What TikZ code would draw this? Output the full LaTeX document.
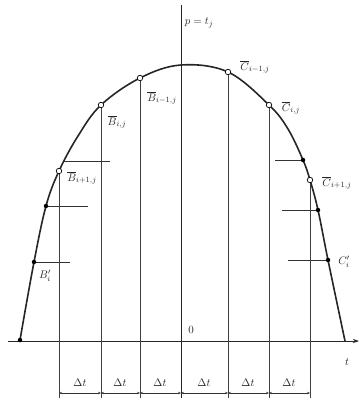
\documentclass[tikz,border=0pt]{standalone}
\usetikzlibrary{arrows.meta}
\begin{document}
\begin{tikzpicture}[x=1pt,y=-1pt,
  curve/.style={line width=1.6pt,black!85},
  gridline/.style={line width=0.6pt,black!75},
  axisline/.style={line width=0.7pt,black!85},
  tickline/.style={line width=0.6pt,black!80},
  dim/.style={line width=0.6pt,black!80,{Stealth[length=3pt,width=2.4pt]}-{Stealth[length=3pt,width=2.4pt]}},
  odot/.style={circle,draw=black,fill=white,line width=0.7pt,inner sep=0pt,minimum size=5.5pt},
  fdot/.style={circle,fill=black,inner sep=0pt,minimum size=4.5pt},
  lbl/.style={inner sep=0pt,font=\fontsize{11}{13}\selectfont,text=black!85}]
\useasboundingbox (0,0) rectangle (359,405);
% curve points
\coordinate (L0) at (20,340);
\coordinate (L1) at (34,262);
\coordinate (L2) at (46,206);
\coordinate (B3) at (59,171);
\coordinate (M1) at (78,136);
\coordinate (B2) at (101,105);
\coordinate (B1) at (140,78);
\coordinate (T) at (181,65);
\coordinate (C1) at (228,72);
\coordinate (C2) at (269,105);
\coordinate (M2) at (288,129);
\coordinate (R1) at (303,160);
\coordinate (C3) at (310,180);
\coordinate (R2) at (318,210);
\coordinate (R3) at (328,260);
\coordinate (R0) at (345,341);
% axes
\coordinate (ax0) at (8,341);
\coordinate (ax1) at (359,341);
\coordinate (vtop) at (181,5);
\coordinate (vbot) at (181,398);
\draw[axisline,-{Stealth[length=6pt,width=4pt]}] (ax0) -- (ax1);
\draw[axisline] (vtop) -- (vbot);
% grid lines
\foreach \p/\x in {B3/59,B2/101,B1/140,C1/228,C2/269,C3/310}{
  \coordinate (g\p) at (\x,398);
  \draw[gridline] (\p) -- (g\p);
}
% dimension line
\coordinate (gT) at (181,393);
\foreach \a/\b in {B3/B2,B2/B1,B1/T,T/C1,C1/C2,C2/C3}{
  \draw[dim] (g\a |- gT) -- (g\b |- gT);
}
% horizontal ticks
\coordinate (h1) at (110,161);
\coordinate (h1s) at (63,161);
\draw[tickline] (h1s) -- (h1);
\coordinate (h2) at (88,206);
\draw[tickline] (L2) -- (h2);
\coordinate (h3) at (70,262);
\draw[tickline] (L1) -- (h3);
\coordinate (h4) at (275,160);
\draw[tickline] (h4) -- (R1);
\coordinate (h5) at (282,210);
\draw[tickline] (h5) -- (R2);
\coordinate (h6) at (288,260);
\draw[tickline] (h6) -- (R3);
% curve
\draw[curve] plot[smooth,tension=0.6] coordinates {(L0) (L1) (L2) (B3) (M1) (B2) (B1) (T) (C1) (C2) (M2) (R1) (C3) (R2) (R3) (R0)};
% dots
\foreach \p in {L0,L1,L2,R1,R2,R3} \node[fdot] (d\p) at (\p) {};
\foreach \p in {B3,B2,B1,C1,C2,C3} \node[odot] (o\p) at (\p) {};
% labels
\node[lbl] (lp) at (199,23) {$p=t_j$};
\node[lbl] (l0) at (191,330) {$0$};
\node[lbl] (lt) at (347,362) {$t$};
\node[lbl] (lB1) at (162,98) {$\overline{B}_{i-1,j}$};
\node[lbl] (lB2) at (117,122) {$\overline{B}_{i,j}$};
\node[lbl] (lB3) at (82,178) {$\overline{B}_{i+1,j}$};
\node[lbl] (lBp) at (45,276) {$B_i'$};
\node[lbl] (lC1) at (255,67) {$\overline{C}_{i-1,j}$};
\node[lbl] (lC2) at (291,108) {$\overline{C}_{i,j}$};
\node[lbl] (lC3) at (337,183) {$\overline{C}_{i+1,j}$};
\node[lbl] (lCp) at (344,262) {$C_i'$};
\foreach \x in {80,120,160,204,248,289} \node[lbl] at (\x,383) {$\Delta t$};
\end{tikzpicture}
\end{document}
